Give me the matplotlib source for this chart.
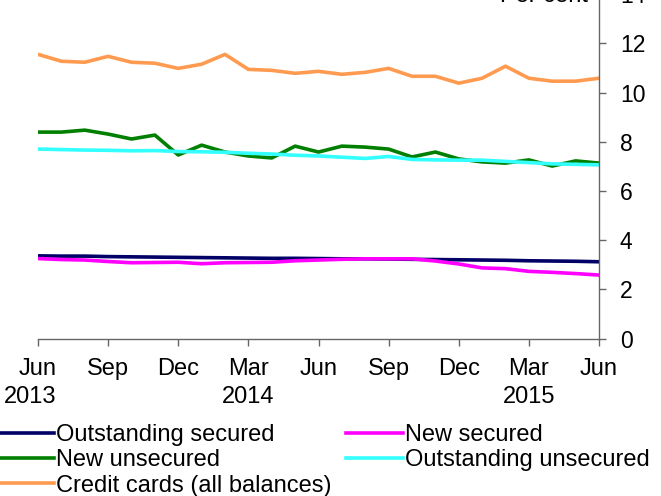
import numpy as np
import matplotlib
matplotlib.use("Agg")
import matplotlib.pyplot as plt

plt.rcParams['font.family'] = ['Liberation Sans', 'DejaVu Sans']

# monthly observations, Jun 2013 .. Jun 2015 (per cent)
months = ["Jun", "Sep", "Dec", "Mar", "Jun", "Sep", "Dec", "Mar", "Jun"]
years = ["2013", "2014", "2015"]

outstanding_secured = [3.36, 3.35, 3.35, 3.33, 3.32, 3.31, 3.30, 3.29, 3.28, 3.27, 3.26, 3.26, 3.25,
                       3.24, 3.24, 3.23, 3.22, 3.21, 3.20, 3.19, 3.18, 3.16, 3.15, 3.14, 3.12]
new_secured = [3.25, 3.21, 3.19, 3.13, 3.08, 3.09, 3.10, 3.04, 3.08, 3.09, 3.10, 3.16, 3.19,
               3.22, 3.24, 3.24, 3.24, 3.15, 3.03, 2.87, 2.84, 2.73, 2.69, 2.64, 2.58]
new_unsecured = [8.39, 8.39, 8.47, 8.31, 8.11, 8.27, 7.46, 7.86, 7.58, 7.42, 7.34, 7.82, 7.58,
                 7.82, 7.78, 7.70, 7.38, 7.58, 7.30, 7.18, 7.13, 7.26, 7.01, 7.22, 7.13]
outstanding_unsecured = [7.70, 7.68, 7.66, 7.65, 7.63, 7.64, 7.60, 7.59, 7.57, 7.53, 7.50, 7.45, 7.42,
                         7.37, 7.32, 7.40, 7.28, 7.26, 7.25, 7.25, 7.20, 7.15, 7.10, 7.08, 7.06]
credit_cards = [11.55, 11.27, 11.23, 11.47, 11.23, 11.19, 10.98, 11.15, 11.55, 10.94, 10.90, 10.78, 10.86,
                10.74, 10.82, 10.98, 10.66, 10.66, 10.38, 10.58, 11.07, 10.58, 10.46, 10.46, 10.58]

x = np.arange(len(credit_cards))

fig = plt.figure(figsize=(6.61, 4.96), dpi=100)
ax = fig.add_axes([0.0575, 0.3175, 0.8487, 0.6944])

lw = 2.6
l_os, = ax.plot(x, outstanding_secured, color='#000066', lw=lw)
l_ns, = ax.plot(x, new_secured, color='#FF00FF', lw=lw)
l_nu, = ax.plot(x, new_unsecured, color='#007F00', lw=lw)
l_ou, = ax.plot(x, outstanding_unsecured, color='#33FFFF', lw=lw)
l_cc, = ax.plot(x, credit_cards, color='#FF9B50', lw=lw)

ax.set_xlim(0, 24)
ax.set_ylim(0, 14)
ax.set_xticks(np.arange(0, 25, 3))
ax.set_xticklabels(months)
ax.set_yticks(np.arange(0, 15, 2))

for s in ['top', 'left']:
    ax.spines[s].set_visible(False)
for s in ['bottom', 'right']:
    ax.spines[s].set_color('#666666')
    ax.spines[s].set_linewidth(1)

fs = 17
ax.yaxis.tick_right()
ax.tick_params(axis='y', direction='out', length=5, width=1, color='#666666',
               labelsize=16.5, pad=10)
ax.tick_params(axis='x', direction='out', length=5, width=1, color='#666666',
               labelsize=fs, pad=9)

for xp, yr in zip([-0.35, 9, 21], years):
    ax.text(xp, -0.17, yr, transform=ax.get_xaxis_transform(), ha='center', va='center',
            fontsize=fs, clip_on=False)

fig.text(588 / 661, 494 / 496, 'Per cent', ha='right', va='baseline', fontsize=fs)

handles = [l_os, l_nu, l_cc, l_ns, l_ou]
labels = ["Outstanding secured", "New unsecured", "Credit cards (all balances)",
          "New secured", "Outstanding unsecured"]
fig.legend(handles, labels, ncol=2, loc='upper left', bbox_to_anchor=(-0.004, 0.145),
           bbox_transform=fig.transFigure, frameon=False, fontsize=fs,
           handlelength=2.4, handletextpad=0.1, columnspacing=0.6,
           labelspacing=0.14, borderpad=0, borderaxespad=0)

fig.savefig("out.png", dpi=100)
